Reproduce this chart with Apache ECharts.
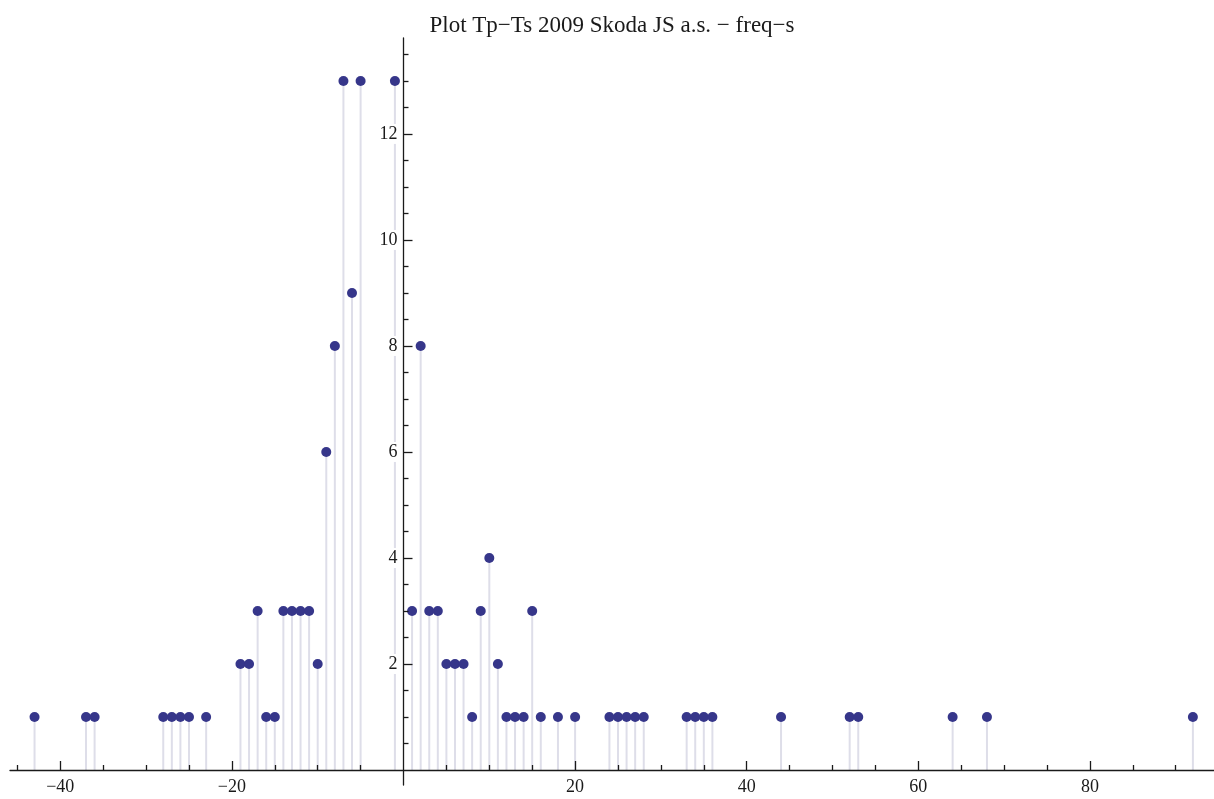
<!DOCTYPE html>
<html>
<head>
<meta charset="utf-8">
<script src="https://cdn.jsdelivr.net/npm/echarts@6/dist/echarts.min.js"></script>
<style>
  html, body { margin: 0; padding: 0; background: #fff; }
  #chart { width: 1214px; height: 799px; }
</style>
</head>
<body>
<div id="chart"></div>
<script>
// Tp - Ts differences (days) and how often each occurs
const diffs = [-43, -37, -36, -28, -27, -26, -25, -23, -19, -18, -17, -16, -15, -14, -13, -12, -11, -10,
  -9, -8, -7, -6, -5, -1, 1, 2, 3, 4, 5, 6, 7, 8, 9, 10, 11, 12, 13, 14, 15, 16, 18, 20,
  24, 25, 26, 27, 28, 33, 34, 35, 36, 44, 52, 53, 64, 68, 92];
const freqs = [1, 1, 1, 1, 1, 1, 1, 1, 2, 2, 3, 1, 1, 3, 3, 3, 3, 2,
  6, 8, 13, 9, 13, 13, 3, 8, 3, 3, 2, 2, 2, 1, 3, 4, 2, 1, 1, 1, 3, 1, 1, 1,
  1, 1, 1, 1, 1, 1, 1, 1, 1, 1, 1, 1, 1, 1, 1];

const xMajorTicks = [-40, -20, 20, 40, 60, 80];
const xMinorTicks = [-45, -35, -30, -25, -15, -10, -5, 5, 10, 15, 25, 30, 35, 45, 50, 55, 65, 70, 75, 85, 90];
const yMajorTicks = [2, 4, 6, 8, 10, 12];
const yMinorTicks = [0.5, 1, 1.5, 2.5, 3, 3.5, 4.5, 5, 5.5, 6.5, 7, 7.5, 8.5, 9, 9.5, 10.5, 11, 11.5, 12.5, 13, 13.5];

const title = 'Plot Tp\u2212Ts 2009 Skoda JS a.s. \u2212 freq\u2212s';

const X_MIN = -45.86, X_MAX = 94.46;
const Y_MIN = -0.283, Y_MAX = 13.81;

const points = diffs.map((d, i) => [d, freqs[i]]);

// plot area
const W = 1214, H = 799;
const G = { left: 10, right: 0, top: 38, bottom: 14 };
const gw = W - G.left - G.right;
const gh = H - G.top - G.bottom;
// shift the axes from the grid edges to the origin lines (x = 0, y = 0)
const yAxisShift = (0 - X_MIN) / (X_MAX - X_MIN) * gw;
const xAxisShift = (0 - Y_MIN) / (Y_MAX - Y_MIN) * gh;

const serif = '"Liberation Serif", "DejaVu Serif", serif';
const ink = '#1a1a1a';

function fmt(v) {
  return v < 0 ? '\u2212' + Math.abs(v) : String(v);
}

function xAxisDef(major) {
  return {
    type: 'value', min: X_MIN, max: X_MAX, position: 'bottom', offset: -xAxisShift,
    z: 4,
    splitLine: { show: false },
    axisLine: { show: major, onZero: false, lineStyle: { color: ink, width: 1.3 } },
    axisTick: {
      show: true, inside: true, length: major ? 9 : 5,
      customValues: major ? xMajorTicks : xMinorTicks,
      lineStyle: { color: ink, width: 1.3 }
    },
    axisLabel: {
      show: major, customValues: xMajorTicks, formatter: fmt, margin: 8,
      color: ink, fontFamily: serif, fontSize: 18
    }
  };
}

function yAxisDef(major) {
  return {
    type: 'value', min: Y_MIN, max: Y_MAX, position: 'left', offset: -yAxisShift,
    z: 4,
    splitLine: { show: false },
    axisLine: { show: major, onZero: false, lineStyle: { color: ink, width: 1.3 } },
    axisTick: {
      show: true, inside: true, length: major ? 9 : 5,
      customValues: major ? yMajorTicks : yMinorTicks,
      lineStyle: { color: ink, width: 1.3 }
    },
    axisLabel: {
      show: major, customValues: yMajorTicks, formatter: fmt, margin: 6,
      color: ink, fontFamily: serif, fontSize: 18,
      backgroundColor: '#ffffff', padding: [1, 0, 1, 1]
    }
  };
}

const chart = echarts.init(document.getElementById('chart'), null, { renderer: 'canvas' });
chart.setOption({
  backgroundColor: '#ffffff',
  animation: false,
  title: {
    text: title, left: 607, top: 9, textAlign: 'center',
    textStyle: { fontFamily: serif, fontSize: 23, fontWeight: 'normal', color: ink }
  },
  grid: { left: G.left, right: G.right, top: G.top, bottom: G.bottom, containLabel: false, outerBoundsMode: 'none' },
  xAxis: [xAxisDef(true), xAxisDef(false)],
  yAxis: [yAxisDef(true), yAxisDef(false)],
  series: [
    {
      type: 'bar', xAxisIndex: 0, yAxisIndex: 0,
      data: points, barWidth: 2, z: 1,
      itemStyle: { color: '#dedee9' }, silent: true
    },
    {
      type: 'scatter', xAxisIndex: 0, yAxisIndex: 0,
      data: points, symbol: 'circle', symbolSize: 10, z: 3,
      itemStyle: { color: '#36368a', opacity: 1 }
    }
  ]
});
</script>
</body>
</html>
